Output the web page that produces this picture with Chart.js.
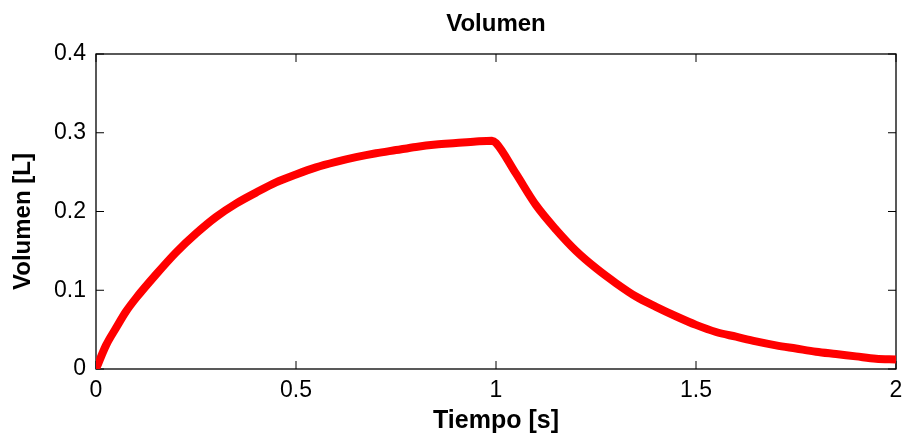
<!DOCTYPE html>
<html>
<head>
<meta charset="utf-8">
<title>Volumen</title>
<script src="https://cdn.jsdelivr.net/npm/chart.js@4.4.0/dist/chart.umd.min.js"></script>
<style>
  body { margin: 0; background: #fff; }
  canvas { display: block; }
</style>
</head>
<body>
<canvas id="graphCanvas" width="906" height="441"></canvas>
<script>
// Datos
const tiempo = [0, 0.025, 0.05, 0.075, 0.1, 0.15, 0.2, 0.25, 0.3, 0.35, 0.4, 0.45, 0.5,
    0.55, 0.6, 0.65, 0.7, 0.75, 0.8, 0.85, 0.9, 0.95, 0.99, 1.0,
    1.05, 1.1, 1.15, 1.2, 1.25, 1.3, 1.35, 1.4, 1.45, 1.5,
    1.55, 1.6, 1.65, 1.7, 1.75, 1.8, 1.85, 1.9, 1.95, 2.0];
const volumen = [0, 0.030, 0.052, 0.073, 0.090, 0.120, 0.148, 0.172, 0.193, 0.210, 0.224, 0.237, 0.247,
    0.256, 0.263, 0.269, 0.274, 0.278, 0.282, 0.285, 0.287, 0.289, 0.290, 0.287,
    0.248, 0.208, 0.177, 0.150, 0.128, 0.109, 0.092, 0.079, 0.067, 0.056,
    0.047, 0.041, 0.035, 0.030, 0.026, 0.022, 0.019, 0.016, 0.013, 0.012];
const xTicks = [0, 0.5, 1, 1.5, 2];
const yTicks = [0, 0.1, 0.2, 0.3, 0.4];

const fuente = "'Liberation Sans', Arial, sans-serif";

// Caja del eje y marcas hacia dentro (estilo MATLAB)
const cajaPlugin = {
    id: 'caja',
    beforeDatasetsDraw(chart) {
        const { ctx, chartArea: a, scales } = chart;
        ctx.save();
        ctx.strokeStyle = '#000';
        ctx.lineWidth = 1.3;
        ctx.strokeRect(a.left, a.top, a.right - a.left, a.bottom - a.top);
        ctx.beginPath();
        xTicks.forEach(v => {
            const px = scales.x.getPixelForValue(v);
            ctx.moveTo(px, a.bottom); ctx.lineTo(px, a.bottom - 8);
            ctx.moveTo(px, a.top); ctx.lineTo(px, a.top + 8);
        });
        yTicks.forEach(v => {
            const py = scales.y.getPixelForValue(v);
            ctx.moveTo(a.left, py); ctx.lineTo(a.left + 8, py);
            ctx.moveTo(a.right, py); ctx.lineTo(a.right - 8, py);
        });
        ctx.lineWidth = 1;
        ctx.stroke();
        ctx.restore();
    }
};

const ctx = document.getElementById('graphCanvas').getContext('2d');
window.chart = new Chart(ctx, {
    type: 'line',
    data: {
        datasets: [{
            label: 'Volumen',
            data: tiempo.map((t, i) => ({ x: t, y: volumen[i] })),
            borderColor: '#ff0000',
            borderWidth: 8,
            borderCapStyle: 'butt',
            borderJoinStyle: 'round',
            cubicInterpolationMode: 'monotone',
            pointRadius: 0,
            fill: false
        }]
    },
    options: {
        responsive: false,
        animation: false,
        layout: { padding: { left: 0, right: 10, top: 0, bottom: 0 } },
        plugins: {
            legend: { display: false },
            tooltip: { enabled: false },
            title: {
                display: true,
                fullSize: false,
                text: 'Volumen',
                color: '#000',
                font: { family: fuente, size: 24, weight: 'bold' },
                padding: { top: 9.6, bottom: 15.6 }
            }
        },
        scales: {
            x: {
                type: 'linear',
                min: 0,
                max: 2,
                afterBuildTicks: s => { s.ticks = xTicks.map(v => ({ value: v })); },
                afterFit: s => { s.height = 72; s.paddingLeft = 0; s.paddingRight = 0; },
                grid: { display: false, drawTicks: false },
                border: { display: false },
                ticks: {
                    color: '#000', padding: 8, font: { family: fuente, size: 23 },
                    callback: v => String(v)
                },
                title: {
                    display: true,
                    text: 'Tiempo [s]',
                    color: '#000',
                    font: { family: fuente, size: 25, weight: 'bold' },
                    padding: { top: 0, bottom: 5 }
                }
            },
            y: {
                type: 'linear',
                min: 0,
                max: 0.4,
                afterBuildTicks: s => { s.ticks = yTicks.map(v => ({ value: v })); },
                afterFit: s => { s.width = 96; s.paddingTop = 0; s.paddingBottom = 0; },
                grid: { display: false, drawTicks: false },
                border: { display: false },
                ticks: {
                    color: '#000', padding: 10, font: { family: fuente, size: 23 },
                    callback: v => String(v)
                },
                title: {
                    display: true,
                    text: 'Volumen [L]   ',
                    color: '#000',
                    font: { family: fuente, size: 24, weight: 'bold' },
                    padding: { top: 8.5, bottom: 0 }
                }
            }
        }
    },
    plugins: [cajaPlugin]
});
</script>
</body>
</html>
